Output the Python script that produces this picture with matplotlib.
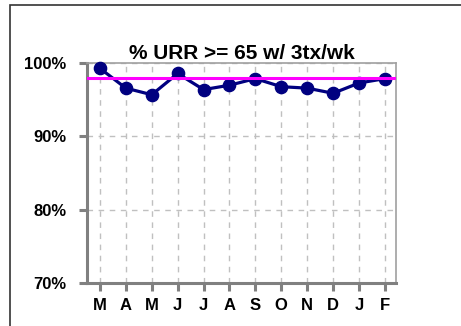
import matplotlib
matplotlib.use("Agg")
import matplotlib.pyplot as plt
from matplotlib.patches import Rectangle

months = ["M", "A", "M", "J", "J", "A", "S", "O", "N", "D", "J", "F"]
urr_pct = [99.3, 96.6, 95.7, 98.6, 96.4, 97.0, 97.9, 96.8, 96.6, 95.9, 97.3, 97.9]
target = 98.0
yticks = [70, 80, 90, 100]
ytick_labels = ["70%", "80%", "90%", "100%"]
title = "% URR >= 65 w/ 3tx/wk"

plt.rcParams['font.family'] = ['Liberation Sans', 'DejaVu Sans']

fig = plt.figure(figsize=(4.61, 3.26), dpi=100)
fig.patches.append(Rectangle((10 / 461, -0.1), 1.2, 1 - 5 / 326 + 0.1,
                             transform=fig.transFigure, fill=False,
                             edgecolor="#333333", linewidth=1.2))
ax = fig.add_axes([0.1887, 0.132, 0.671, 0.674])

x = list(range(len(months)))
ax.plot(x, urr_pct, color="#000080", linewidth=2.3, marker="o",
        markersize=8.8, zorder=3, clip_on=False)
ax.axhline(target, color="#ff00ff", linewidth=2.2, zorder=4)

ax.set_xlim(-0.5, 11.44)
ax.set_ylim(70, 100)
ax.set_xticks(x)
ax.set_xticklabels(months, fontsize=12, fontweight="bold")
ax.set_yticks(yticks)
ax.set_yticklabels(ytick_labels, fontsize=12, fontweight="bold")

ax.grid(True, color="#c0c0c0", linestyle=(0, (4, 4)), linewidth=1.0, zorder=0)
ax.set_axisbelow(True)

for side in ["left", "bottom"]:
    ax.spines[side].set_color("#808080")
    ax.spines[side].set_linewidth(2.2)
for side in ["top", "right"]:
    ax.spines[side].set_color("#a0a0a0")
    ax.spines[side].set_linewidth(1.2)
ax.tick_params(axis="both", direction="out", length=6, width=2.2,
               color="#808080")
ax.tick_params(axis="y", pad=9)
ax.tick_params(axis="x", pad=5)

ax.set_title(title, fontsize=15, fontweight="bold", pad=3)

fig.savefig("out.png", dpi=100)
